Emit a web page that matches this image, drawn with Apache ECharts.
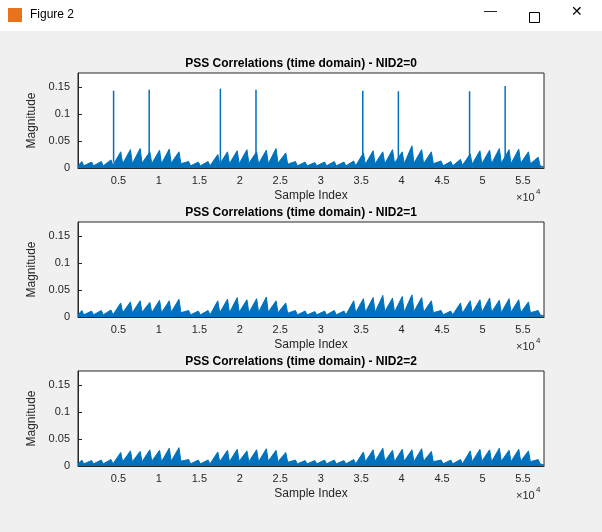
<!DOCTYPE html>
<html>
<head>
<meta charset="utf-8">
<script src="https://cdn.jsdelivr.net/npm/echarts@6/dist/echarts.min.js"></script>
<style>html,body{margin:0;padding:0;background:#f0f0f0}#c{width:602px;height:532px}</style>
</head>
<body>
<div id="c"></div>
<script>
// bins of 1200 samples, peak / floor magnitude
var binSize = 1200;
var peaks0 = [.012,.011,.012,.015,.030,.034,.036,.030,.033,.035,.030,.012,.011,.012,
  .025,.030,.032,.034,.030,.033,.036,.028,.012,.011,.010,.011,.012,.011,.013,
  .028,.032,.030,.034,.030,.041,.034,.030,.013,.012,.016,.026,.032,.033,.036,.034,.035,.030,.020];
var floors0 = [.004,.004,.004,.005,.008,.008,.009,.008,.008,.009,.008,.004,.004,.004,
  .007,.008,.008,.009,.008,.008,.009,.007,.004,.004,.004,.004,.004,.004,.004,
  .007,.008,.008,.009,.008,.009,.008,.008,.004,.004,.005,.007,.008,.008,.009,.008,.009,.008,.004];
var peaks1 = [.012,.011,.012,.013,.026,.028,.030,.027,.031,.030,.033,.012,.011,.012,
  .030,.033,.036,.032,.034,.037,.030,.026,.012,.011,.010,.011,.012,.011,.030,
  .034,.036,.040,.035,.038,.041,.036,.030,.012,.011,.026,.030,.032,.035,.031,.034,.032,.028,.012];
var floors1 = [.004,.004,.004,.004,.008,.008,.009,.008,.008,.009,.008,.004,.004,.004,
  .008,.008,.009,.008,.009,.009,.008,.007,.004,.004,.004,.004,.004,.004,.008,
  .009,.009,.010,.009,.009,.010,.009,.008,.004,.004,.007,.008,.009,.009,.008,.009,.008,.008,.004];
var peaks2 = [.011,.010,.011,.012,.025,.028,.027,.030,.029,.033,.034,.012,.011,.011,
  .026,.029,.031,.028,.030,.032,.029,.025,.011,.010,.010,.011,.011,.010,.012,
  .026,.030,.033,.029,.031,.030,.032,.027,.011,.011,.012,.028,.031,.030,.033,.029,.031,.028,.012];
var floors2 = [.004,.004,.004,.004,.008,.008,.008,.009,.008,.009,.009,.004,.004,.004,
  .008,.008,.009,.008,.008,.009,.008,.007,.004,.004,.004,.004,.004,.004,.004,
  .008,.009,.009,.008,.009,.008,.009,.008,.004,.004,.004,.008,.009,.008,.009,.008,.009,.008,.004];
// PSS peaks only show in NID2=0
var spikeIdx = [4400, 8800, 17600, 22000, 35200, 39600, 48400, 52800];
var spikeVal = [0.143, 0.145, 0.147, 0.145, 0.143, 0.142, 0.142, 0.152];
var titles = ['PSS Correlations (time domain) - NID2=0', 'PSS Correlations (time domain) - NID2=1', 'PSS Correlations (time domain) - NID2=2'];

var blue = '#0072BD';
var font = 'Liberation Sans, Arial, sans-serif';
var tops = [73, 222, 371];

function zigzag(peaks, floors) {
  var d = [[0, floors[0]]];
  for (var i = 0; i < peaks.length; i++) {
    d.push([i * binSize + binSize * 0.4, peaks[i]]);
    d.push([i * binSize + binSize * 0.6, floors[i]]);
  }
  d.push([57600, 0.002]);
  return d;
}
var spikeData = [];
for (var k = 0; k < spikeIdx.length; k++) {
  spikeData.push([spikeIdx[k], 0.01], [spikeIdx[k], spikeVal[k]], [spikeIdx[k], 0.01], [spikeIdx[k], null]);
}

var grids = [], xAxes = [], yAxes = [], series = [], graphics = [];
var all = [[peaks0, floors0], [peaks1, floors1], [peaks2, floors2]];
for (var i = 0; i < 3; i++) {
  grids.push({left: 78, right: 58, top: tops[i], height: 95, show: true, borderColor: '#262626', borderWidth: 1, backgroundColor: '#fff'});
  xAxes.push({
    type: 'value', gridIndex: i, min: 0, max: 57600, interval: 5000,
    name: 'Sample Index', nameLocation: 'middle', nameGap: 22,
    nameTextStyle: {fontFamily: font, fontSize: 12, color: '#262626'},
    axisLine: {lineStyle: {color: '#262626'}},
    axisTick: {inside: true, length: 4, lineStyle: {color: '#262626'}},
    axisLabel: {fontFamily: font, fontSize: 11, color: '#262626', margin: 7, showMaxLabel: false,
      formatter: function (v) { return (v === 0 || v > 56000) ? '' : String(v / 1e4); }},
    splitLine: {show: false}
  });
  yAxes.push({
    type: 'value', gridIndex: i, min: 0, max: 0.176, interval: 0.05,
    name: 'Magnitude', nameLocation: 'middle', nameGap: 30,
    nameTextStyle: {fontFamily: font, fontSize: 12, color: '#262626'},
    axisLine: {show: true, lineStyle: {color: '#262626'}},
    axisTick: {inside: true, length: 4, lineStyle: {color: '#262626'}},
    axisLabel: {fontFamily: font, fontSize: 11, color: '#262626', showMaxLabel: false,
      formatter: function (v) { return v > 0.17 ? '' : String(+v.toFixed(2)); }},
    splitLine: {show: false}
  });
  series.push({
    type: 'line', xAxisIndex: i, yAxisIndex: i, data: zigzag(all[i][0], all[i][1]),
    showSymbol: false, lineStyle: {color: blue, width: 1}, areaStyle: {color: blue, opacity: 1}, z: 3
  });
  graphics.push({type: 'text', left: 'center', top: tops[i] - 15,
    style: {text: titles[i], font: 'bold 12px ' + font, fill: '#000'}});
  graphics.push({type: 'text', left: 516, top: tops[i] + 119,
    style: {text: '\u00d710', font: '11px ' + font, fill: '#262626'}});
  graphics.push({type: 'text', left: 536, top: tops[i] + 115,
    style: {text: '4', font: '8px ' + font, fill: '#262626'}});
}
series.push({
  type: 'line', xAxisIndex: 0, yAxisIndex: 0, data: spikeData, connectNulls: false,
  showSymbol: false, lineStyle: {color: blue, width: 1.5}, z: 4
});

// window chrome
graphics.push({type: 'rect', left: 0, top: 0, shape: {width: 602, height: 31}, style: {fill: '#fff'}, z: -1});
graphics.push({type: 'rect', left: 8, top: 8, shape: {width: 14, height: 14}, style: {fill: '#e8731c'}});
graphics.push({type: 'text', left: 30, top: 9, style: {text: 'Figure 2', font: '12px ' + font, fill: '#000'}});
graphics.push({type: 'text', left: 484, top: 5, style: {text: '\u2014', font: '13px ' + font, fill: '#000'}});
graphics.push({type: 'rect', left: 527, top: 10, shape: {width: 10, height: 10}, style: {fill: 'none', stroke: '#000', lineWidth: 1}});
graphics.push({type: 'text', left: 571, top: 5, style: {text: '\u2715', font: '14px ' + font, fill: '#000'}});

var chart = echarts.init(document.getElementById('c'), null, {renderer: 'canvas'});
chart.setOption({
  backgroundColor: '#f0f0f0',
  animation: false,
  grid: grids, xAxis: xAxes, yAxis: yAxes, series: series, graphic: graphics
});
</script>
</body>
</html>
